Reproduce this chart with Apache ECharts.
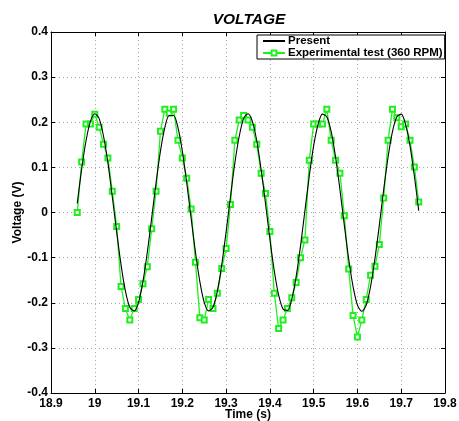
<!DOCTYPE html>
<html>
<head>
<meta charset="utf-8">
<script src="https://cdn.jsdelivr.net/npm/echarts@6/dist/echarts.min.js"></script>
<style>
  html, body { margin: 0; padding: 0; background: #fff; }
  #chart { width: 459px; height: 421px; }
</style>
</head>
<body>
<div id="chart"></div>
<script>
// Sample times (s)
const times = [
  18.96, 18.97, 18.98, 18.99, 19.00, 19.01, 19.02, 19.03, 19.04, 19.05,
  19.06, 19.07, 19.08, 19.09, 19.10, 19.11, 19.12, 19.13, 19.14, 19.15,
  19.16, 19.17, 19.18, 19.19, 19.20, 19.21, 19.22, 19.23, 19.24, 19.25,
  19.26, 19.27, 19.28, 19.29, 19.30, 19.31, 19.32, 19.33, 19.34, 19.35,
  19.36, 19.37, 19.38, 19.39, 19.40, 19.41, 19.42, 19.43, 19.44, 19.45,
  19.46, 19.47, 19.48, 19.49, 19.50, 19.51, 19.52, 19.53, 19.54, 19.55,
  19.56, 19.57, 19.58, 19.59, 19.60, 19.61, 19.62, 19.63, 19.64, 19.65,
  19.66, 19.67, 19.68, 19.69, 19.70, 19.71, 19.72, 19.73, 19.74
];

// Model voltage (V)
const presentVolts = [
   0.020,  0.096,  0.159,  0.202,  0.219,  0.208,  0.169,  0.110,  0.035, -0.043,
  -0.116, -0.174, -0.210, -0.218, -0.199, -0.153, -0.088, -0.012,  0.066,  0.136,
   0.188,  0.215,  0.215,  0.188,  0.136,  0.066, -0.012, -0.088, -0.153, -0.199,
  -0.218, -0.210, -0.174, -0.116, -0.043,  0.035,  0.110,  0.169,  0.208,  0.219,
   0.202,  0.159,  0.095,  0.020, -0.059, -0.129, -0.183, -0.214, -0.217, -0.192,
  -0.142, -0.074,  0.004,  0.081,  0.148,  0.195,  0.218,  0.212,  0.179,  0.123,
   0.051, -0.028, -0.103, -0.164, -0.205, -0.219, -0.205, -0.164, -0.102, -0.028,
   0.051,  0.123,  0.179,  0.212,  0.218,  0.195,  0.148,  0.081,  0.004
];

// Measured voltage, experimental test at 360 RPM (V)
const testVolts = [
   0.000,  0.112,  0.196,  0.196,  0.218,  0.189,  0.151,  0.121,  0.047, -0.031,
  -0.164, -0.213, -0.238, -0.213, -0.193, -0.158, -0.120, -0.036,  0.047,  0.180,
   0.229,  0.220,  0.229,  0.160,  0.121,  0.076,  0.008, -0.110, -0.233, -0.238,
  -0.193, -0.213, -0.179, -0.124, -0.080,  0.018,  0.160,  0.205,  0.215,  0.205,
   0.189,  0.151,  0.087,  0.042, -0.042, -0.179, -0.257, -0.238, -0.213, -0.189,
  -0.155, -0.100, -0.061,  0.116,  0.196,  0.196,  0.196,  0.229,  0.160,  0.116,
   0.087, -0.007, -0.125, -0.228, -0.276, -0.238, -0.193, -0.139, -0.119, -0.071,
   0.032,  0.160,  0.229,  0.210,  0.190,  0.196,  0.160,  0.101,  0.023
];

// Axis ticks
const xTicks = ['18.9', '19', '19.1', '19.2', '19.3', '19.4', '19.5', '19.6', '19.7', '19.8'];
const yTicks = ['-0.4', '-0.3', '-0.2', '-0.1', '0', '0.1', '0.2', '0.3', '0.4'];

const seriesNames = ['Present', 'Experimental test (360 RPM)'];

const xMin = parseFloat(xTicks[0]);
const xMax = parseFloat(xTicks[xTicks.length - 1]);
const xStep = 0.1;
const yMin = parseFloat(yTicks[0]);
const yMax = parseFloat(yTicks[yTicks.length - 1]);
const yStep = 0.1;

const FONT = '"Liberation Sans", Arial, Helvetica, sans-serif';
const labelStyle = { color: '#000', fontFamily: FONT, fontWeight: 'bold', fontSize: 12 };

function fmt(v) {
  return String(parseFloat(v.toFixed(2)));
}

const gridLine = { show: true, lineStyle: { color: '#a8a8a8', width: 1, type: [1, 3] } };

function baseX(extra) {
  return Object.assign({
    type: 'value', min: xMin, max: xMax, interval: xStep,
    axisLine: { show: true, onZero: false, lineStyle: { color: '#000', width: 1 } },
    axisTick: { show: true, inside: true, length: 4, lineStyle: { color: '#000' } },
    splitLine: { show: false },
    axisLabel: { show: false }
  }, extra);
}
function baseY(extra) {
  return Object.assign({
    type: 'value', min: yMin, max: yMax, interval: yStep,
    axisLine: { show: true, onZero: false, lineStyle: { color: '#000', width: 1 } },
    axisTick: { show: true, inside: true, length: 4, lineStyle: { color: '#000' } },
    splitLine: { show: false },
    axisLabel: { show: false }
  }, extra);
}

const chart = echarts.init(document.getElementById('chart'), null, { renderer: 'canvas' });

chart.setOption({
  animation: false,
  backgroundColor: '#fff',
  title: {
    text: 'VOLTAGE',
    left: 244, top: 7, textAlign: 'center',
    textStyle: { fontFamily: FONT, fontWeight: 'bold', fontStyle: 'italic', fontSize: 15.5, color: '#000' }
  },
  grid: { left: 51, right: 14, top: 32, bottom: 28, containLabel: false, outerBoundsMode: 'none' },
  legend: {
    orient: 'vertical',
    left: 257, top: 35,
    data: [
      { name: seriesNames[0], itemStyle: { opacity: 0 } },
      { name: seriesNames[1] }
    ],
    backgroundColor: '#fff',
    borderColor: '#000', borderWidth: 1,
    padding: [0, 2, 0, 5],
    itemGap: 0,
    itemWidth: 22, itemHeight: 6,
    textStyle: { fontFamily: FONT, fontWeight: 'bold', fontSize: 11.5, lineHeight: 10, color: '#000', padding: [0, 0, 0, -2] }
  },
  xAxis: [
    baseX({
      position: 'bottom',
      name: 'Time (s)', nameLocation: 'middle', nameGap: 16, nameMoveOverlap: false,
      nameTextStyle: { fontFamily: FONT, fontWeight: 'bold', fontSize: 12, color: '#000' },
      splitLine: gridLine,
      axisLabel: { show: true, margin: 5, formatter: fmt, ...labelStyle }
    }),
    baseX({ position: 'top' })
  ],
  yAxis: [
    baseY({
      position: 'left',
      name: 'Voltage (V)', nameLocation: 'middle', nameGap: 27, nameMoveOverlap: false,
      nameTextStyle: { fontFamily: FONT, fontWeight: 'bold', fontSize: 12, color: '#000' },
      splitLine: gridLine,
      axisLabel: { show: true, margin: 3, formatter: fmt, ...labelStyle }
    }),
    baseY({ position: 'right' })
  ],
  series: [
    {
      name: seriesNames[0],
      type: 'line',
      data: times.map((t, i) => [t, presentVolts[i]]),
      smooth: 0.3,
      showSymbol: false,
      lineStyle: { color: '#000', width: 1.1 },
      itemStyle: { color: '#000' },
      z: 3
    },
    {
      name: seriesNames[1],
      type: 'line',
      data: times.map((t, i) => [t, testVolts[i]]),
      symbol: 'emptyRect',
      symbolSize: 5,
      showSymbol: true,
      lineStyle: { color: '#1ef01e', width: 1.3 },
      itemStyle: { color: '#1ef01e', borderColor: '#1ef01e', borderWidth: 1 },
      z: 2
    }
  ]
});
</script>
</body>
</html>
